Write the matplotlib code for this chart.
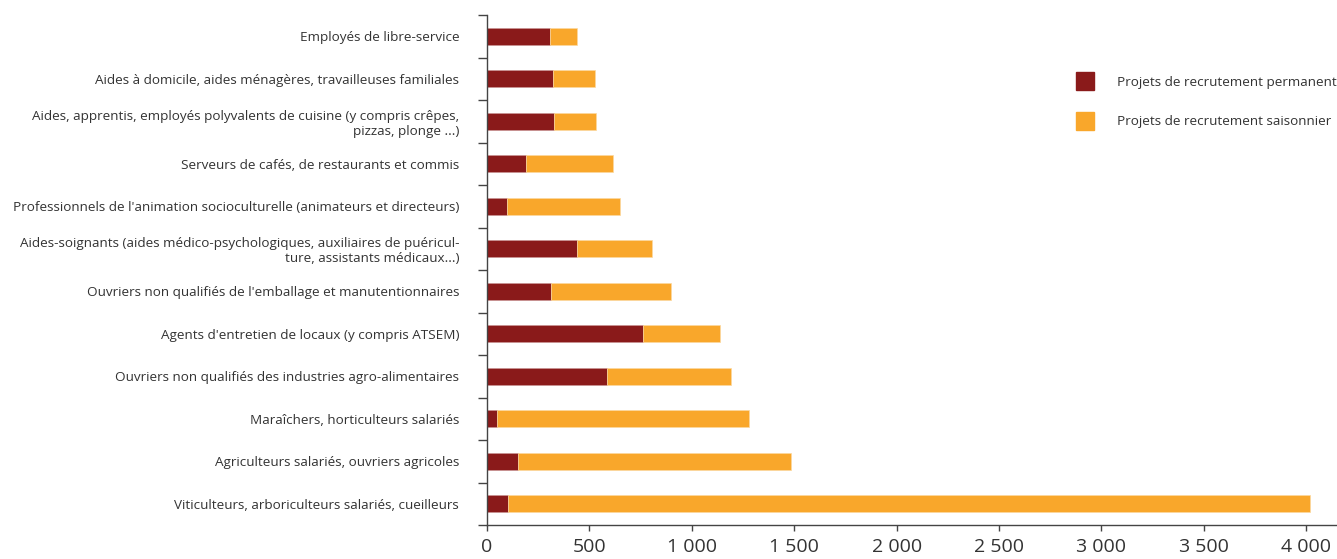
import numpy as np
import matplotlib.pyplot as plt
from matplotlib.lines import Line2D

# categories, listed top to bottom
metiers = [
    "Employés de libre-service",
    "Aides à domicile, aides ménagères, travailleuses familiales",
    "Aides, apprentis, employés polyvalents de cuisine (y compris crêpes,\npizzas, plonge ...)",
    "Serveurs de cafés, de restaurants et commis",
    "Professionnels de l'animation socioculturelle (animateurs et directeurs)",
    "Aides-soignants (aides médico-psychologiques, auxiliaires de puéricul-\nture, assistants médicaux...)",
    "Ouvriers non qualifiés de l'emballage et manutentionnaires",
    "Agents d'entretien de locaux (y compris ATSEM)",
    "Ouvriers non qualifiés des industries agro-alimentaires",
    "Maraîchers, horticulteurs salariés",
    "Agriculteurs salariés, ouvriers agricoles",
    "Viticulteurs, arboriculteurs salariés, cueilleurs",
]
permanent = [309, 324, 325, 191, 98, 441, 312, 760, 587, 47, 152, 103]
saisonnier = [132, 202, 206, 422, 552, 366, 584, 377, 606, 1232, 1333, 3917]

xticks = [0, 500, 1000, 1500, 2000, 2500, 3000, 3500, 4000]
xtick_labels = ["0", "500", "1 000", "1 500", "2 000", "2 500", "3 000", "3 500", "4 000"]

c_perm = "#8A1A1A"
c_sais = "#F9A72B"

plt.rcParams['font.family'] = ['Open Sans', 'DejaVu Sans']

fig = plt.figure(figsize=(13.37, 5.59), dpi=100)
ax = fig.add_axes([487 / 1337, 34 / 559, 1 - 487 / 1337, 510 / 559])

y = np.arange(len(metiers))
ax.barh(y, permanent, height=0.4, color=c_perm, edgecolor="#C99494", linewidth=0.5)
ax.barh(y, saisonnier, left=permanent, height=0.4, color=c_sais, edgecolor="#FCD9A0", linewidth=0.5)

ax.set_ylim(len(metiers) - 0.5, -0.5)
ax.set_xlim(0, 4150)

ax.set_yticks(y)
ax.set_yticklabels(metiers, fontsize=9.7, color="#333333", ha="right", multialignment="right")
ax.tick_params(axis="y", which="major", length=0, pad=20)
ax.set_yticks(np.arange(-0.5, len(metiers)), minor=True)
ax.tick_params(axis="y", which="minor", length=6.5, width=1, color="#444444")

ax.set_xticks(xticks)
ax.set_xticklabels(xtick_labels, fontsize=14, color="#333333")
ax.tick_params(axis="x", length=4, width=1, color="#444444", pad=5)

for s in ["top", "right"]:
    ax.spines[s].set_visible(False)
for s in ["left", "bottom"]:
    ax.spines[s].set_color("#444444")
    ax.spines[s].set_linewidth(1)

handles = [Line2D([], [], linestyle="none", marker="s", markersize=13, color=c_perm),
           Line2D([], [], linestyle="none", marker="s", markersize=13, color=c_sais)]
fig.legend(handles, ["Projets de recrutement permanent", "Projets de recrutement saisonnier"],
           loc="upper left", bbox_to_anchor=(1072 / 1337, 1 - 76 / 559), frameon=False,
           borderpad=0, borderaxespad=0,
           fontsize=9.7, handlelength=2.0, handletextpad=1.35,
           labelspacing=1.95, labelcolor="#333333")

fig.savefig("out.png", dpi=100)
